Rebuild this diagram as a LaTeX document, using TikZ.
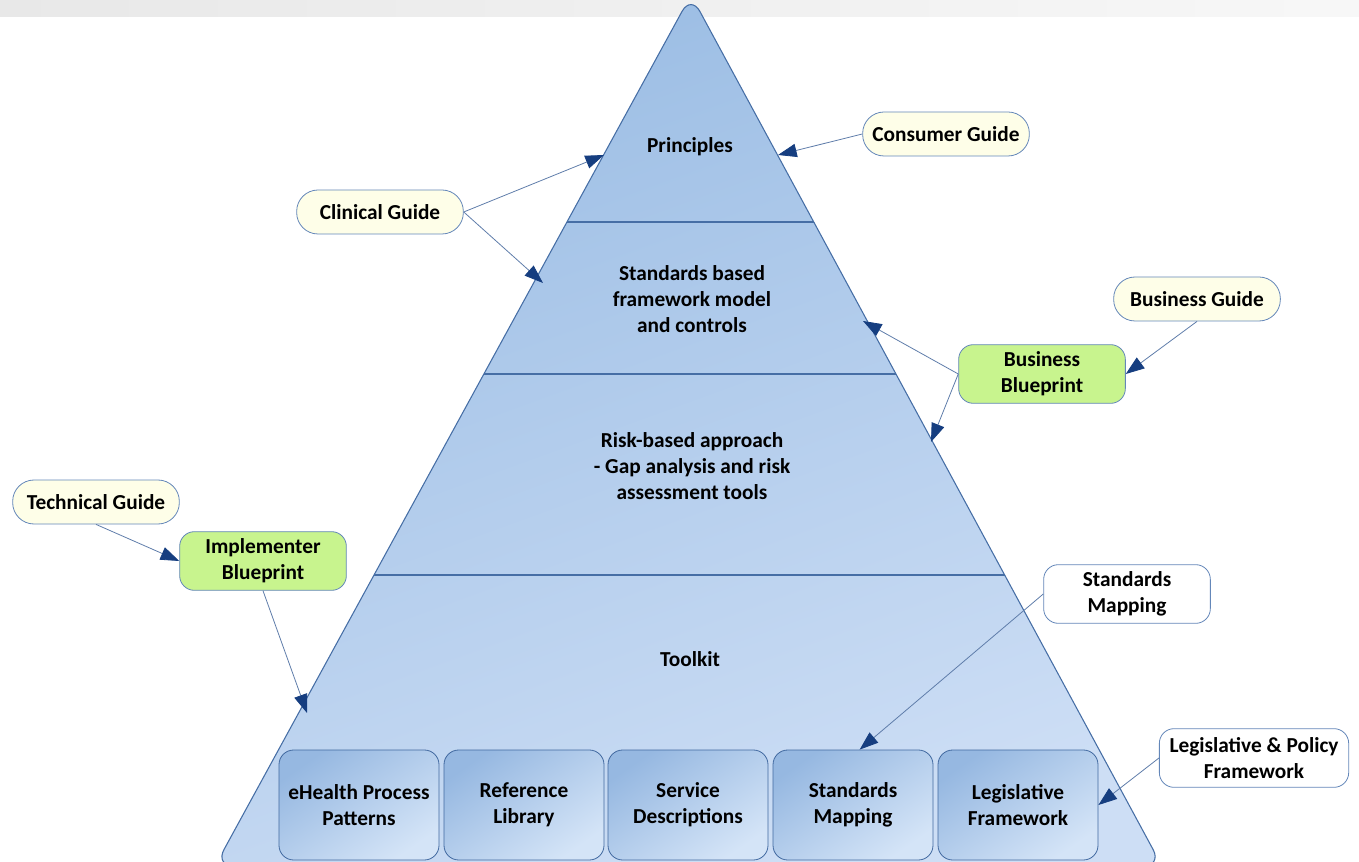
\documentclass[tikz,border=0pt]{standalone}
\usepackage{fontspec}
\setmainfont{Carlito}
\usetikzlibrary{arrows.meta,calc}

\definecolor{triTop}{RGB}{155,189,228}
\definecolor{triBot}{RGB}{205,222,245}
\definecolor{triLine}{RGB}{70,110,165}
\definecolor{connc}{RGB}{95,125,170}
\definecolor{tipc}{RGB}{22,62,128}
\definecolor{guideFill}{RGB}{254,254,232}
\definecolor{guideLine}{RGB}{100,135,185}
\definecolor{bpFill}{RGB}{200,244,142}
\definecolor{boxTop}{RGB}{150,184,225}
\definecolor{boxBot}{RGB}{212,228,247}
\definecolor{boxLine}{RGB}{65,105,160}

\begin{document}
\begin{tikzpicture}[x=0.75pt,y=-0.75pt,
  font=\fontsize{16}{19.5}\selectfont\bfseries,
  guide/.style={draw=guideLine, fill=guideFill, rounded corners=16pt,
    minimum width=125pt, minimum height=33pt, line width=0.6pt, inner sep=2pt},
  blueprint/.style={draw=guideLine, fill=bpFill, rounded corners=11pt,
    minimum width=125pt, minimum height=44pt, align=center, line width=0.6pt, inner sep=2pt},
  whitebox/.style={draw=guideLine, fill=white, rounded corners=11pt,
    minimum width=125pt, minimum height=44pt, align=center, line width=0.6pt, inner sep=2pt},
  tool/.style={draw=boxLine, rounded corners=11pt, minimum width=120pt,
    minimum height=82.5pt, align=center, line width=0.6pt,
    top color=boxTop, bottom color=boxBot, shading angle=35},
  tlabel/.style={align=center},
  conn/.style={draw=connc, line width=0.6pt,
    -{Triangle[length=14pt,width=10pt,color=tipc]}}
]
\useasboundingbox (0,0) rectangle (1359,862);

% top grey band
\fill[left color=black!9, right color=black!3] (0,0) rectangle (1359,17);

% pyramid
\coordinate (apex) at (691,-5);
\coordinate (bl) at (215,866);
\coordinate (br) at (1162,866);
\path[draw=triLine, line width=0.8pt, top color=triTop, bottom color=triBot,
      shading angle=20, rounded corners=14pt] (bl) -- (apex) -- (br) -- cycle;
\begin{scope}
  \clip (bl) -- (apex) -- (br) -- cycle;
  \draw[triLine, line width=0.9pt] (0,222) -- (1359,222);
  \draw[triLine, line width=0.9pt] (0,374) -- (1359,374);
  \draw[triLine, line width=0.9pt] (0,575) -- (1359,575);
\end{scope}

% pyramid labels
\node[tlabel] (principles) at (690,147) {Principles};
\node[tlabel] (standards) at (692,299) {Standards based\\framework model\\and controls};
\node[tlabel] (risk) at (692,466) {Risk-based approach\\- Gap analysis and risk\\assessment tools};
\node[tlabel] (toolkit) at (690,659) {Toolkit};

% toolkit boxes
\node[tool] (ehp) at (359,805) {eHealth Process\\Patterns};
\node[tool] (reflib) at (524,805) {Reference\\Library};
\node[tool] (svc) at (688,805) {Service\\Descriptions};
\node[tool] (bsm) at (853,805) {Standards\\Mapping};
\node[tool] (blf) at (1018,805) {Legislative\\Framework};

% side nodes
\node[guide] (consumer) at (946,134) {Consumer Guide};
\node[guide] (clinical) at (380,212) {Clinical Guide};
\node[guide] (busguide) at (1197,299) {Business Guide};
\node[blueprint] (busbp) at (1042,374) {Business\\Blueprint};
\node[guide] (techguide) at (96,502) {Technical Guide};
\node[blueprint] (implbp) at (263,561) {Implementer\\Blueprint};
\node[whitebox] (smap) at (1127,594) {Standards\\Mapping};
\node[whitebox, minimum width=142pt] (legal) at (1254,758) {Legislative \& Policy\\Framework};

% arrow targets on the pyramid
\coordinate (tPrin) at (604,155);
\coordinate (tStd) at (543,283);
\coordinate (tCons) at (778,155);
\coordinate (tBB1) at (863,321);
\coordinate (tBB2) at (931,442);
\coordinate (tImpl) at (307,713);

% connectors
\draw[conn] (clinical.east) -- (tPrin);
\draw[conn] (clinical.east) -- (tStd);
\draw[conn] (consumer.west) -- (tCons);
\draw[conn] (busguide.south) -- (busbp.east);
\draw[conn] (busbp.west) -- (tBB1);
\draw[conn] (busbp.west) -- (tBB2);
\draw[conn] (techguide.south) -- (implbp.west);
\draw[conn] (implbp.south) -- (tImpl);
\draw[conn] (smap.west) -- ([xshift=5pt]bsm.north);
\draw[conn] (legal.west) -- (blf.east);
\end{tikzpicture}
\end{document}
